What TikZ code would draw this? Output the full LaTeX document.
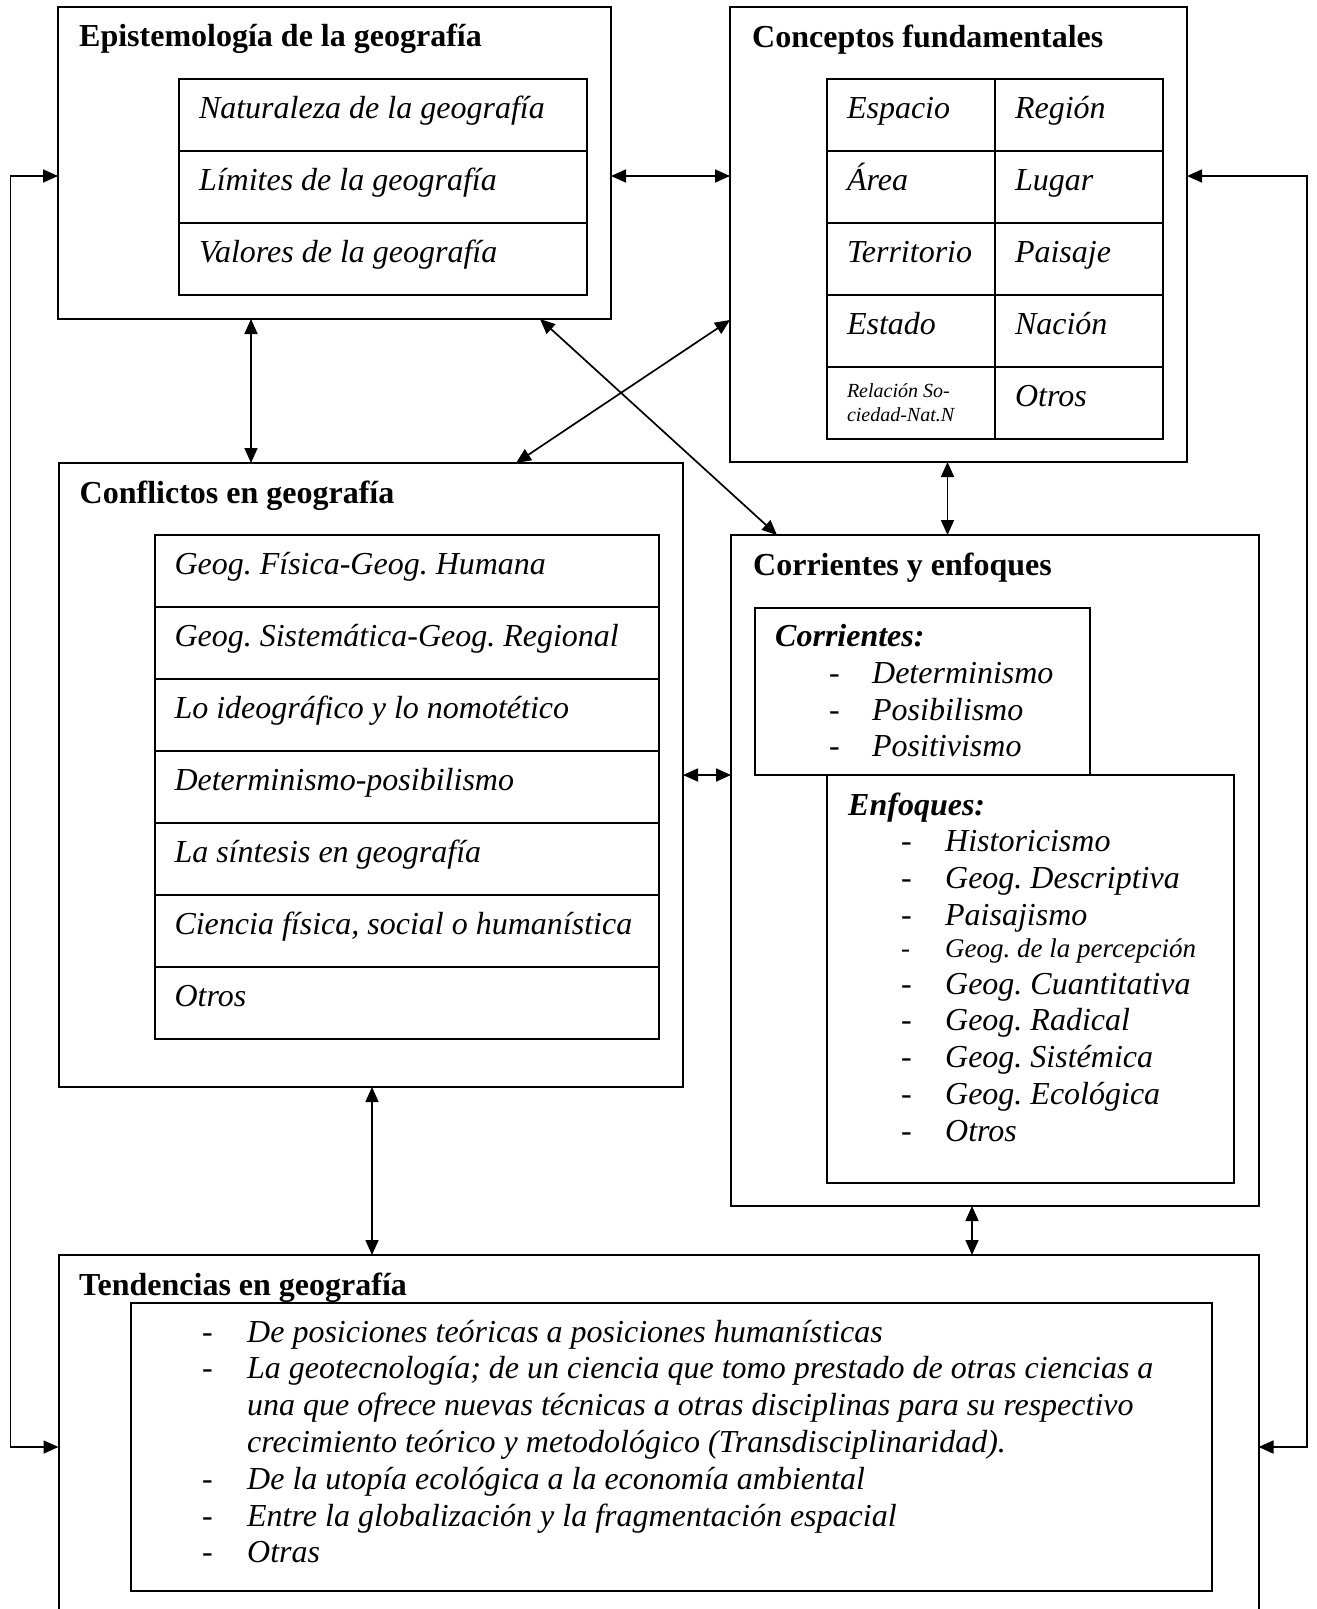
\documentclass[tikz,border=0pt]{standalone}
\usepackage{fontspec}
\setmainfont{Liberation Serif}
\frenchspacing
\usepackage{tikz}
\usetikzlibrary{arrows.meta}
\tikzset{>={Triangle[length=15pt,width=13pt]}}
\tikzset{
  box/.style={draw,line width=2pt,anchor=north west,inner sep=0pt,outer sep=0pt},
  cell/.style={draw,line width=2pt,anchor=north west,outer sep=0pt,minimum height=72pt,
    inner xsep=20pt,inner ysep=0pt,text height=22pt,text depth=16pt,
    font=\fontsize{32}{36.8}\selectfont\itshape},
  head/.style={anchor=base west,inner sep=0pt,font=\fontsize{32}{36.8}\selectfont\bfseries},
  lst/.style={anchor=base west,inner sep=0pt,font=\fontsize{32}{36.8}\selectfont\itshape},
  link/.style={<->,line width=1.7pt}
}

\begin{document}
\begin{tikzpicture}[x=1pt,y=-1pt]
  \useasboundingbox (0,0) rectangle (1317,1609);

  \node[box,minimum width=553pt,minimum height=312pt] (epi) at (58,7) {};
  \node[box,minimum width=457pt,minimum height=455pt] (conc) at (730,7) {};
  \node[box,minimum width=624.5pt,minimum height=624pt] (conf) at (58.5,463) {};
  \node[box,minimum width=527.5pt,minimum height=671pt] (corr) at (731,535) {};
  \node[box,minimum width=1200pt,minimum height=357pt] (tend) at (58.5,1255) {};

  \node[head] (epiT) at (79,46.7) {Epistemología de la geografía};
  \node[head] (concT) at (752,47) {Conceptos fundamentales};
  \node[head] (confT) at (79.5,503) {Conflictos en geografía};
  \node[head] (corrT) at (753,575.4) {Corrientes y enfoques};
  \node[head] (tendT) at (79,1295) {Tendencias en geografía};

  \foreach \t [count=\i from 0] in {Naturaleza de la geografía,Límites de la geografía,Valores de la geografía}
    \node[cell] (epi\i) at (179,79+72*\i) {\makebox[368pt][l]{\t}};

  \foreach \a/\b [count=\i from 0] in {Espacio/Región,Área/Lugar,Territorio/Paisaje,Estado/Nación}{
    \node[cell] (cl\i) at (827,79+72*\i) {\makebox[128pt][l]{\a}};
    \node[cell] (cr\i) at (995,79+72*\i) {\makebox[128pt][l]{\b}};
  }
  \node[cell,text height=18pt,text depth=30pt,font=\fontsize{20}{24}\selectfont\itshape] (cl4)
    at (827,367) {\makebox[128pt][l]{\begin{tabular}[t]{@{}l@{}}Relación So-\\ciedad-Nat.N\end{tabular}}};
  \node[cell] (cr4) at (995,367) {\makebox[128pt][l]{Otros}};

  \foreach \t [count=\i from 0] in {Geog. Física-Geog. Humana,Geog. Sistemática-Geog. Regional,
      Lo ideográfico y lo nomotético,Determinismo-posibilismo,La síntesis en geografía,
      {Ciencia física, social o humanística},Otros}
    \node[cell] (conf\i) at (154.5,535+72*\i) {\makebox[464.5pt][l]{\t}};

  \node[box,minimum width=335pt,minimum height=167.5pt] (corB) at (755,607.5) {};
  \node[box,minimum width=407pt,minimum height=408pt] (enfB) at (827,775) {};
  \node[box,minimum width=1081pt,minimum height=288pt] (tendB) at (131,1303) {};

  \node[lst] (corL) at (775,646.5) {\begin{tabular}[t]{@{}l@{}}
    \textbf{Corrientes:}\\
    \hspace{54pt}\makebox[43pt][l]{-}Determinismo\\
    \hspace{54pt}\makebox[43pt][l]{-}Posibilismo\\
    \hspace{54pt}\makebox[43pt][l]{-}Positivismo
  \end{tabular}};

  \node[lst] (enfL) at (848,815) {\begin{tabular}[t]{@{}l@{}}
    \textbf{Enfoques:}\\
    \hspace{53pt}\makebox[44pt][l]{-}Historicismo\\
    \hspace{53pt}\makebox[44pt][l]{-}Geog. Descriptiva\\
    \hspace{53pt}\makebox[44pt][l]{-}Paisajismo\\[-5pt]
    \fontsize{27}{30}\selectfont\hspace{53pt}\makebox[44pt][l]{-}Geog. de la percepción\\
    \hspace{53pt}\makebox[44pt][l]{-}Geog. Cuantitativa\\
    \hspace{53pt}\makebox[44pt][l]{-}Geog. Radical\\
    \hspace{53pt}\makebox[44pt][l]{-}Geog. Sistémica\\
    \hspace{53pt}\makebox[44pt][l]{-}Geog. Ecológica\\
    \hspace{53pt}\makebox[44pt][l]{-}Otros
  \end{tabular}};

  \node[lst] (tendL) at (202,1342) {\begin{tabular}[t]{@{}p{45pt}@{}l@{}}
    - & De posiciones teóricas a posiciones humanísticas\\
    - & La geotecnología; de un ciencia que tomo prestado de otras ciencias a\\
      & una que ofrece nuevas técnicas a otras disciplinas para su respectivo\\
      & crecimiento teórico y metodológico (Transdisciplinaridad).\\
    - & De la utopía ecológica a la economía ambiental\\
    - & Entre la globalización y la fragmentación espacial\\
    - & Otras
  \end{tabular}};

  \draw[link] ([yshift=-169pt]epi.north east) -- ([yshift=-169pt]conc.north west);
  \draw[link] ([yshift=-169pt]epi.north west) -- ++(-47.5,0) |- ([yshift=-192pt]tend.north west);
  \draw[link] ([yshift=-169pt]conc.north east) -- ++(120,0) |- ([yshift=-192pt]tend.north east);
  \draw[link] ([xshift=193pt]epi.south west) coordinate (a) -- (a |- conf.north);
  \draw[link] ([xshift=-71pt]epi.south east) -- ([xshift=46pt]corr.north west);
  \draw[link] ([yshift=-313pt]conc.north west) -- ([xshift=-167pt]conf.north east);
  \draw[link] ([xshift=217.5pt]conc.south west) coordinate (b) -- (b |- corr.north);
  \draw[link] ([yshift=-312pt]conf.north east) coordinate (c) -- (c -| corr.west);
  \draw[link] ([xshift=313.5pt]conf.south west) coordinate (d) -- (d |- tend.north);
  \draw[link] ([xshift=241pt]corr.south west) coordinate (e) -- (e |- tend.north);
\end{tikzpicture}
\end{document}
